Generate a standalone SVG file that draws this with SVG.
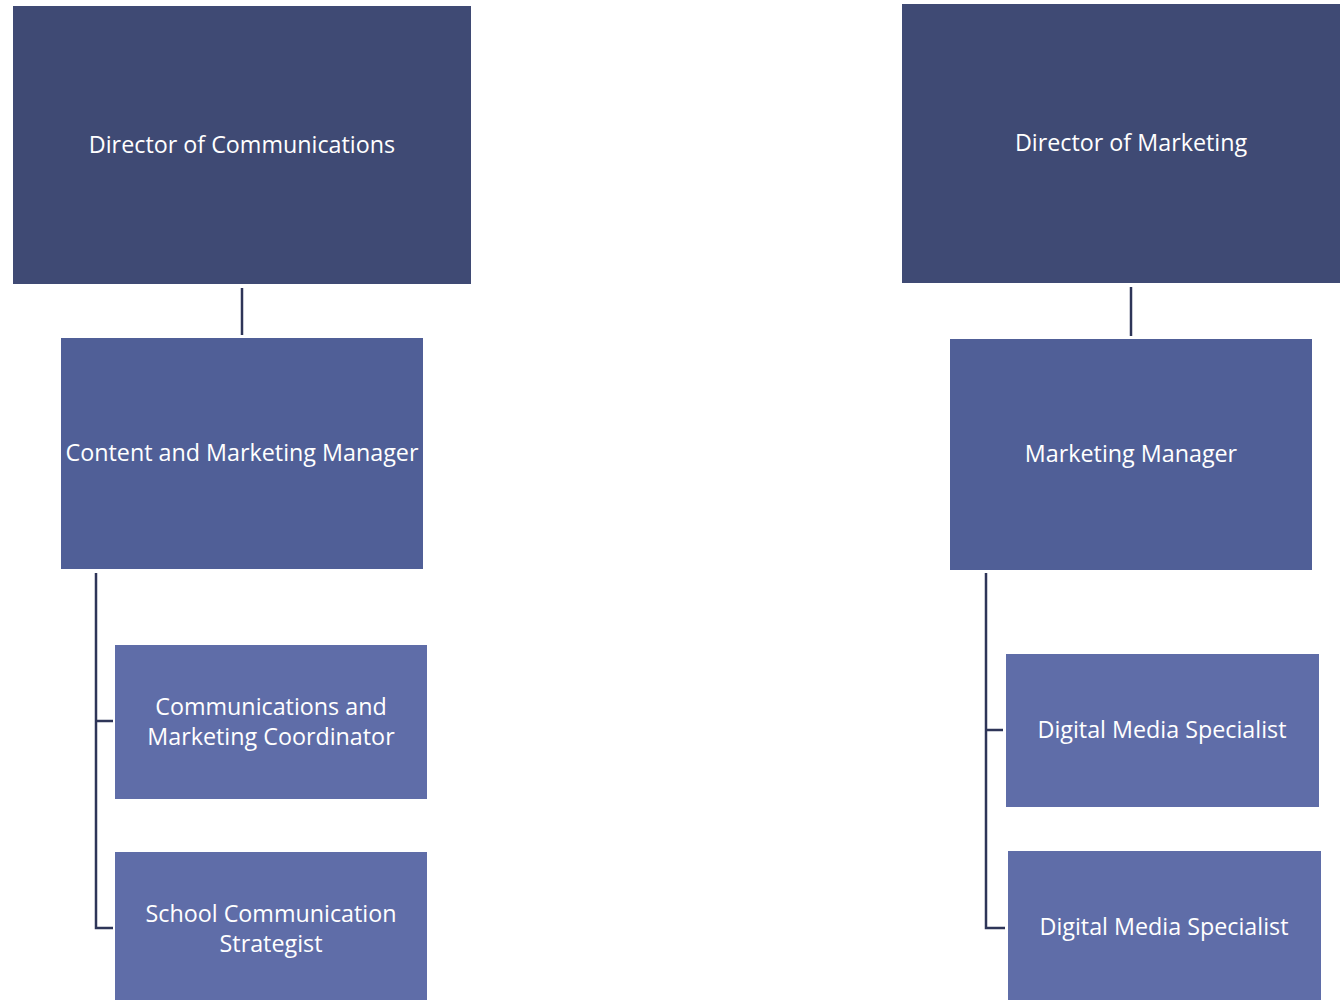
<svg xmlns="http://www.w3.org/2000/svg" width="1340" height="1000" viewBox="0 0 1340 1000">
<style>
.l1{fill:#3F4A74}
.l2{fill:#505F97}
.l3{fill:#5F6DA8}
text{font-family:"Open Sans","Noto Sans",sans-serif;font-size:23.3px;fill:#FFFFFF;text-anchor:middle}
.c{stroke:#2E3558;stroke-width:2.5;fill:none}
</style>
<rect width="1340" height="1000" fill="#FFFFFF"/>
<g id="connectors">
<line class="c" x1="242" y1="288" x2="242" y2="335"/>
<path class="c" d="M113 721 H96 V573 M96 721 V928 H113"/>
<line class="c" x1="1131" y1="287" x2="1131" y2="336"/>
<path class="c" d="M1003 730 H986 V573 M986 730 V928 H1005"/>
</g>
<g id="dir-comm"><rect class="l1" x="13" y="6" width="458" height="278"/><text x="242" y="153">Director of Communications</text></g>
<g id="content-mgr"><rect class="l2" x="61" y="338" width="362" height="231"/><text x="242" y="461">Content and Marketing Manager</text></g>
<g id="coordinator"><rect class="l3" x="115" y="645" width="312" height="154"/><text x="271" y="715">Communications and</text><text x="271" y="745">Marketing Coordinator</text></g>
<g id="strategist"><rect class="l3" x="115" y="852" width="312" height="148"/><text x="271" y="922">School Communication</text><text x="271" y="952">Strategist</text></g>
<g id="dir-mkt"><rect class="l1" x="902" y="4" width="438" height="279"/><text x="1131" y="151">Director of Marketing</text></g>
<g id="mkt-mgr"><rect class="l2" x="950" y="339" width="362" height="231"/><text x="1131" y="462">Marketing Manager</text></g>
<g id="dms1"><rect class="l3" x="1006" y="654" width="313" height="153"/><text x="1162" y="738">Digital Media Specialist</text></g>
<g id="dms2"><rect class="l3" x="1008" y="851" width="313" height="149"/><text x="1164" y="935">Digital Media Specialist</text></g>
</svg>
